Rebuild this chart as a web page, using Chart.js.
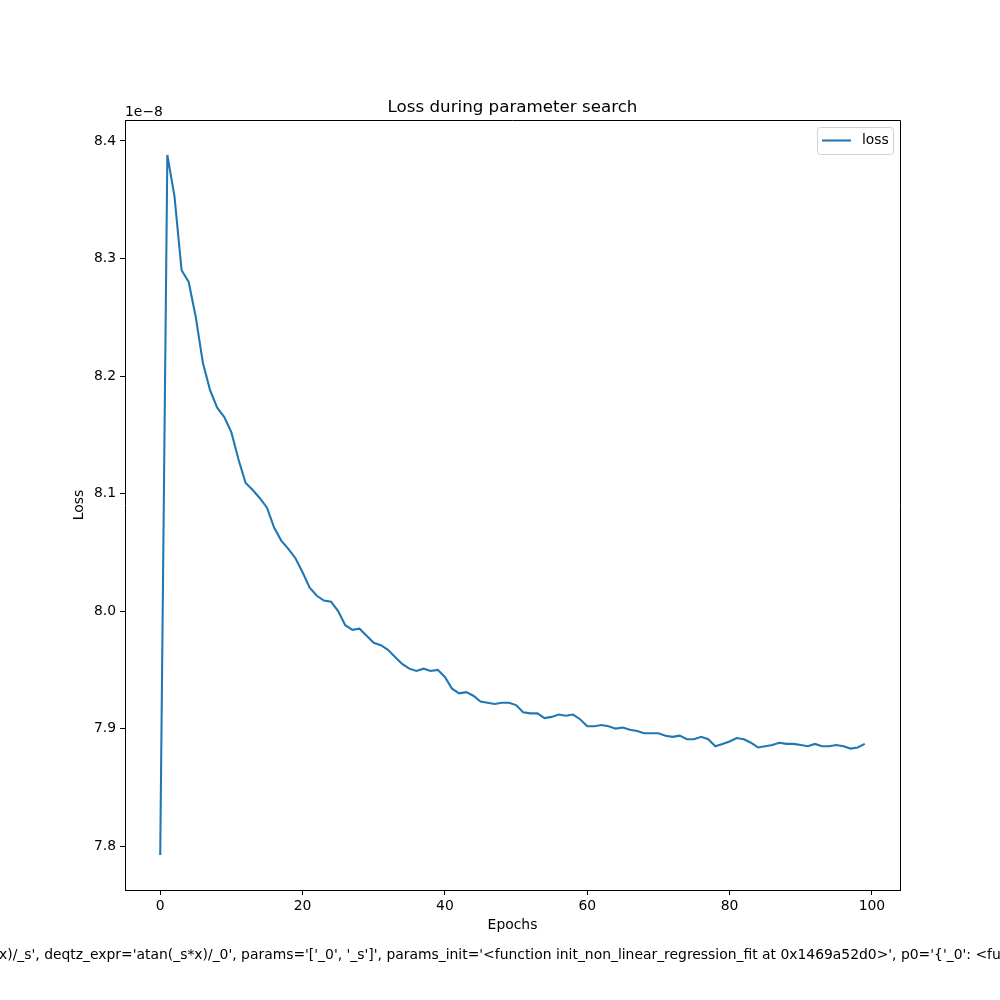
<!DOCTYPE html>
<html>
<head>
<meta charset="utf-8">
<script src="https://cdn.jsdelivr.net/npm/chart.js@4"></script>
<style>
  html, body { margin: 0; padding: 0; background: #fff; }
  #wrap { width: 1000px; height: 1000px; }
</style>
</head>
<body>
<div id="wrap"><canvas id="lossChart" width="1000" height="1000"></canvas></div>
<script>
// loss per epoch, in units of 1e-8 (offset text drawn as "1e−8")
const epochs = Array.from({ length: 100 }, (_, i) => i);
const lossValues = [
    7.7925, 8.388, 8.353, 8.290, 8.280, 8.250, 8.211, 8.188, 8.173, 8.165,
    8.152, 8.129, 8.109, 8.103, 8.096, 8.088, 8.071, 8.060, 8.053, 8.045,
    8.033, 8.020, 8.013, 8.009, 8.008, 8.000, 7.988, 7.984, 7.985, 7.979,
    7.973, 7.971, 7.967, 7.961, 7.955, 7.951, 7.949, 7.951, 7.949, 7.950,
    7.944, 7.934, 7.930, 7.931, 7.928, 7.923, 7.922, 7.921, 7.922, 7.922,
    7.920, 7.914, 7.913, 7.913, 7.909, 7.910, 7.912, 7.911, 7.912, 7.908,
    7.902, 7.902, 7.903, 7.902, 7.900, 7.901, 7.899, 7.898, 7.896, 7.896,
    7.896, 7.894, 7.893, 7.894, 7.891, 7.891, 7.893, 7.891, 7.885, 7.887,
    7.889, 7.892, 7.891, 7.888, 7.884, 7.885, 7.886, 7.888, 7.887, 7.887,
    7.886, 7.885, 7.887, 7.885, 7.885, 7.886, 7.885, 7.883, 7.884, 7.887
];
const xTicks = [0, 20, 40, 60, 80, 100];
const yTicks = [7.8, 7.9, 8.0, 8.1, 8.2, 8.3, 8.4];

const titleText = 'Loss during parameter search';
const offsetText = '1e\u22128';
const footerText = "x)/_s', deqtz_expr='atan(_s*x)/_0', params='['_0', '_s']', params_init='<function init_non_linear_regression_fit at 0x1469a52d0>', p0='{'_0': <fu";

const FONT = '"DejaVu Sans", sans-serif';
const LINE_COLOR = '#1f77b4';

// titles, frame, legend and footer like matplotlib
const extras = {
    id: 'extras',
    afterDraw(chart) {
        const ctx = chart.ctx;
        const a = chart.chartArea;
        ctx.save();
        // top/right spines
        ctx.strokeStyle = '#000';
        ctx.lineWidth = 1;
        ctx.beginPath();
        ctx.moveTo(a.left, a.top + 0.5);
        ctx.lineTo(a.right + 0.5, a.top + 0.5);
        ctx.lineTo(a.right + 0.5, a.bottom);
        ctx.stroke();

        ctx.fillStyle = '#000';
        ctx.font = '16.7px ' + FONT;
        ctx.textAlign = 'center';
        ctx.textBaseline = 'alphabetic';
        ctx.fillText(titleText, (a.left + a.right) / 2, a.top - 8);

        ctx.font = '13.9px ' + FONT;
        ctx.textAlign = 'left';
        ctx.fillText(offsetText, a.left, a.top - 4);

        ctx.textBaseline = 'middle';
        ctx.fillText(footerText, -1, 955);

        // legend
        const ds = chart.data.datasets[0];
        const bx = 817, by = 127, bw = 76, bh = 27;
        ctx.beginPath();
        ctx.roundRect(bx + 0.5, by + 0.5, bw, bh, 3);
        ctx.fillStyle = 'rgba(255,255,255,0.8)';
        ctx.fill();
        ctx.strokeStyle = '#d0d0d0';
        ctx.stroke();
        ctx.beginPath();
        ctx.strokeStyle = ds.borderColor;
        ctx.lineWidth = ds.borderWidth;
        ctx.moveTo(822, by + 13.5);
        ctx.lineTo(851, by + 13.5);
        ctx.stroke();
        ctx.fillStyle = '#000';
        ctx.textBaseline = 'middle';
        ctx.fillText(ds.label, 862, by + 13);
        ctx.restore();
    }
};

new Chart(document.getElementById('lossChart'), {
    type: 'line',
    data: {
        datasets: [{
            label: 'loss',
            data: epochs.map((e, i) => ({ x: e, y: lossValues[i] })),
            borderColor: LINE_COLOR,
            borderWidth: 2.08,
            pointRadius: 0,
            tension: 0,
            fill: false
        }]
    },
    options: {
        responsive: false,
        animation: false,
        devicePixelRatio: 1,
        layout: { padding: { left: 0, top: 120, right: 100, bottom: 60 } },
        plugins: {
            legend: { display: false },
            tooltip: { enabled: false }
        },
        scales: {
            x: {
                type: 'linear',
                min: -4.95,
                max: 103.95,
                afterBuildTicks: (s) => { s.ticks = xTicks.map(v => ({ value: v })); },
                afterFit: (s) => { s.height = 50; },
                grid: { drawOnChartArea: false, drawTicks: true, tickLength: 5, color: '#000', tickWidth: 1 },
                border: { display: true, color: '#000', width: 1 },
                ticks: { color: '#000', padding: 3, font: { family: FONT, size: 13.9 }, maxRotation: 0 },
                title: { display: true, text: 'Epochs', color: '#000', font: { family: FONT, size: 13.9 }, padding: { top: 0, bottom: 6 } }
            },
            y: {
                type: 'linear',
                min: 7.7627,
                max: 8.4178,
                afterBuildTicks: (s) => { s.ticks = yTicks.map(v => ({ value: v })); },
                afterFit: (s) => { s.width = 125; },
                grid: { drawOnChartArea: false, drawTicks: true, tickLength: 5, color: '#000', tickWidth: 1 },
                border: { display: true, color: '#000', width: 1 },
                ticks: { color: '#000', padding: 4, font: { family: FONT, size: 13.9 }, callback: (v) => v.toFixed(1) },
                title: { display: true, text: 'Loss', color: '#000', font: { family: FONT, size: 13.9 }, padding: { top: 71, bottom: 0 } }
            }
        }
    },
    plugins: [extras]
});
</script>
</body>
</html>
